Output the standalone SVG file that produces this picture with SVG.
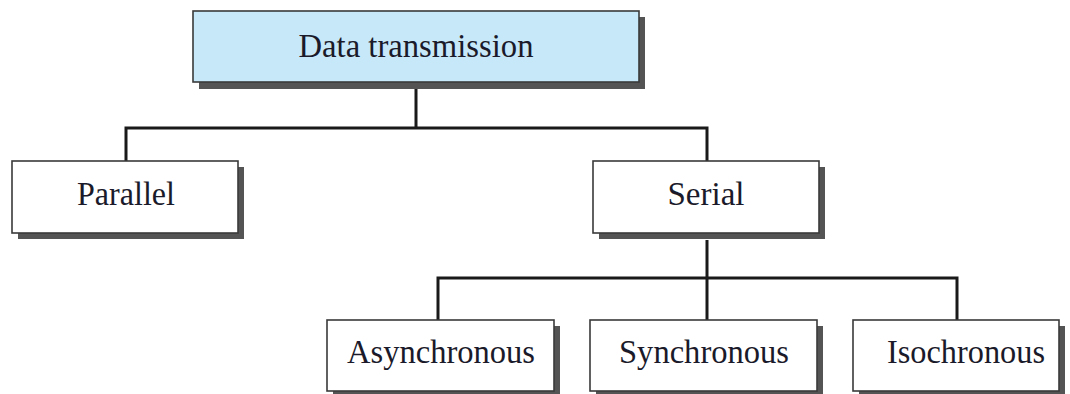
<svg xmlns="http://www.w3.org/2000/svg" width="1070" height="394" viewBox="0 0 1070 394">
  <style>
    .shadow { fill: #545454; }
    .box { fill: #ffffff; stroke: #3a3a3a; stroke-width: 1.6; }
    .root { fill: #c7e8f9; }
    .label { font-family: "Liberation Serif", "Times New Roman", serif; font-size: 34px; fill: #1a1a2a; text-anchor: middle; }
    .wire { fill: none; stroke: #1a1a1a; stroke-width: 3; stroke-linejoin: miter; }
  </style>

  <!-- tree connectors -->
  <g id="connectors">
    <path class="wire" d="M416 89 V128 M126 161 V128 H707 V161"/>
    <path class="wire" d="M707 240 V278 M438 320 V278 H957 V320 M707 278 V320"/>
  </g>

  <g id="node-data-transmission">
    <rect class="shadow" x="199" y="17" width="446" height="72"/>
    <rect class="box root" x="193" y="11" width="446" height="71"/>
    <text class="label" x="416" y="57" textLength="235" lengthAdjust="spacingAndGlyphs">Data transmission</text>
  </g>

  <g id="node-parallel">
    <rect class="shadow" x="18" y="167" width="226" height="72"/>
    <rect class="box" x="12" y="161" width="226" height="72"/>
    <text class="label" x="126" y="205" textLength="98" lengthAdjust="spacingAndGlyphs">Parallel</text>
  </g>

  <g id="node-serial">
    <rect class="shadow" x="599" y="167" width="226" height="72"/>
    <rect class="box" x="593" y="161" width="226" height="72"/>
    <text class="label" x="706" y="205" textLength="77" lengthAdjust="spacingAndGlyphs">Serial</text>
  </g>

  <g id="node-asynchronous">
    <rect class="shadow" x="333" y="326" width="227" height="71"/>
    <rect class="box" x="327" y="320" width="227" height="71"/>
    <text class="label" x="441" y="363" textLength="188" lengthAdjust="spacingAndGlyphs">Asynchronous</text>
  </g>

  <g id="node-synchronous">
    <rect class="shadow" x="596" y="326" width="227" height="71"/>
    <rect class="box" x="590" y="320" width="227" height="71"/>
    <text class="label" x="704" y="363" textLength="170" lengthAdjust="spacingAndGlyphs">Synchronous</text>
  </g>

  <g id="node-isochronous">
    <rect class="shadow" x="859" y="326" width="206" height="71"/>
    <rect class="box" x="853" y="320" width="206" height="71"/>
    <text class="label" x="966" y="363" textLength="158" lengthAdjust="spacingAndGlyphs">Isochronous</text>
  </g>
</svg>
